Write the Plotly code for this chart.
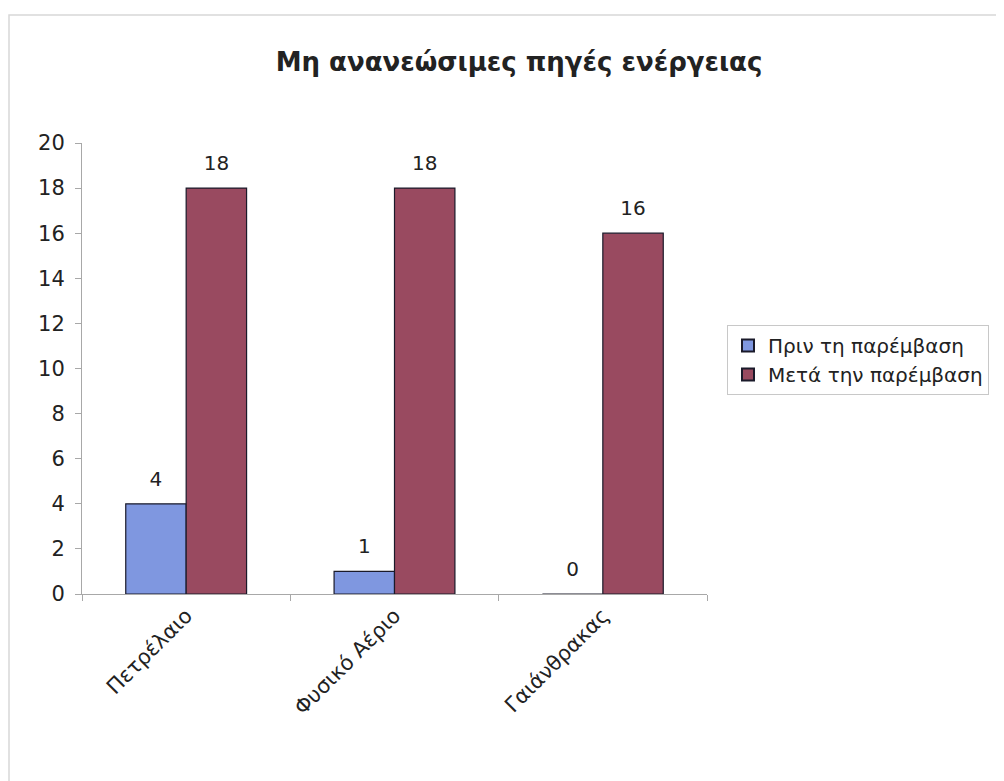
import plotly.graph_objects as go

categories = ["Πετρέλαιο", "Φυσικό Αέριο", "Γαιάνθρακας"]
before = [4, 1, 0]
after = [18, 18, 16]
series_names = ["Πριν τη παρέμβαση", "Μετά την παρέμβαση"]
y_ticks = [0, 2, 4, 6, 8, 10, 12, 14, 16, 18, 20]

W, H = 1004, 781
OFF = 8  # page body margin
# plot area in reference pixel coordinates
PX0, PX1, PY0, PY1 = 82, 707, 143, 594
L, R, T, B = PX0 - OFF, W - (PX1 - OFF), PY0 - OFF, H - (PY1 - OFF)
PW, PH = PX1 - PX0, PY1 - PY0

FONT = "DejaVu Sans, Liberation Sans, Arial"
LABEL_PAD = 0.45  # visual gap between bar top and its value label (axis units)

fig = go.Figure()
series = [(before, series_names[0], "#7f97e0", "a"),
          (after, series_names[1], "#994a60", "b")]
for vals, name, color, grp in series:
    fig.add_trace(go.Bar(
        x=categories, y=vals, name=name, offsetgroup=grp,
        marker=dict(color=color, line=dict(color="#1a1a2a", width=1.2)),
    ))
for vals, name, color, grp in series:
    # transparent carrier bar that lifts the value label slightly above the bar
    fig.add_trace(go.Bar(
        x=categories, y=[LABEL_PAD] * len(vals), base=vals, offsetgroup=grp,
        marker=dict(color="rgba(0,0,0,0)", line=dict(width=0)),
        text=[str(v) for v in vals], textposition="outside", cliponaxis=False,
        textfont=dict(size=20, color="#222222", family=FONT),
        showlegend=False, hoverinfo="skip",
    ))

fig.update_layout(
    width=W, height=H,
    margin=dict(l=L, r=R, t=T, b=B, autoexpand=False),
    paper_bgcolor="white", plot_bgcolor="white",
    barmode="group", bargap=0.42, bargroupgap=0,
    font=dict(family=FONT, size=21, color="#222222"),
    title=dict(text="<b>Μη ανανεώσιμες πηγές ενέργειας</b>",
               x=(519 - OFF) / W, xanchor="center", y=1 - (62 - OFF) / H, yanchor="middle",
               font=dict(family=FONT, size=26, color="#222222")),
    legend=dict(x=(727 - PX0) / PW, xanchor="left",
                y=(PY1 - 325) / PH, yanchor="top",
                bordercolor="#c8c8c8", borderwidth=1, bgcolor="white",
                font=dict(size=20, family=FONT, color="#222222"),
                itemsizing="constant", tracegroupgap=0),
    showlegend=True,
)
fig.update_yaxes(range=[0, 20], tickvals=y_ticks, showgrid=False,
                 showline=True, linecolor="#a8a8a8", linewidth=1,
                 ticks="outside", ticklen=6, tickcolor="#a8a8a8",
                 ticklabelstandoff=6,
                 tickfont=dict(size=21), zeroline=False)
fig.update_xaxes(showgrid=False, showline=True, linecolor="#a8a8a8", linewidth=1,
                 ticks="outside", ticklen=6, tickcolor="#a8a8a8", tickson="boundaries",
                 tickangle=-45, tickfont=dict(size=21))

# outer chart frame (top at y=15, left at x=8 in the reference)
fig.add_shape(type="rect", xref="paper", yref="paper",
              x0=-(PX0 - 9) / PW, x1=(W + 20 - PX0) / PW,
              y0=-(H + 20 - PY1) / PH, y1=(PY1 - 15) / PH,
              line=dict(color="#d8d8d8", width=1.5), layer="below")

fig.write_html("out.html")
